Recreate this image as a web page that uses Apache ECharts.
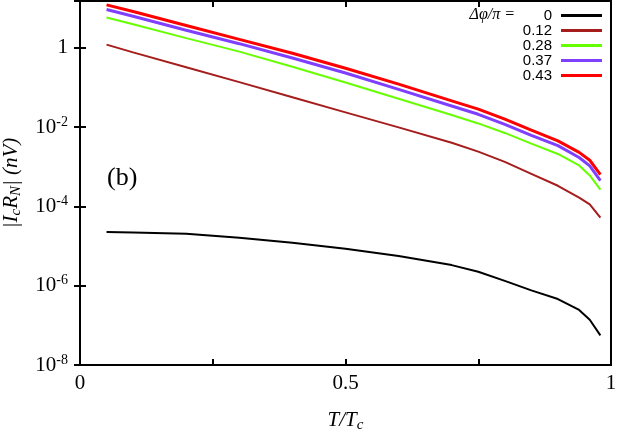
<!DOCTYPE html>
<html><head><meta charset="utf-8">
<script src="https://cdn.jsdelivr.net/npm/echarts@6/dist/echarts.min.js"></script>
<style>html,body{margin:0;padding:0;background:#fff}#c{width:619px;height:435px}</style>
</head><body><div id="c"></div>
<script>
const T = [0.05, 0.1, 0.2, 0.3, 0.4, 0.5, 0.6, 0.7, 0.75, 0.8, 0.85, 0.9, 0.94, 0.96, 0.98];
const seriesNames = ['0', '0.12', '0.28', '0.37', '0.43'];
const v0    = [2.24e-5, 2.19e-5, 2.04e-5, 1.62e-5, 1.20e-5, 8.5e-6, 5.6e-6, 3.3e-6, 2.24e-6, 1.32e-6, 7.6e-7, 4.6e-7, 2.45e-7, 1.38e-7, 5.6e-8];
const v012  = [1.19, 0.76, 0.32, 0.135, 0.056, 0.0234, 0.0098, 0.0040, 0.0024, 0.00132, 6.6e-4, 3.3e-4, 1.66e-4, 1.12e-4, 5.2e-5];
const v028  = [5.75, 3.89, 1.74, 0.794, 0.331, 0.132, 0.0513, 0.0200, 0.0123, 0.00708, 0.00380, 0.00209, 0.00107, 6.0e-4, 2.63e-4];
const v037  = [9.12, 6.17, 2.75, 1.26, 0.550, 0.229, 0.0891, 0.0339, 0.0209, 0.0117, 0.00617, 0.00339, 0.0017, 0.00105, 4.47e-4];
const v043  = [12.0, 8.13, 3.63, 1.62, 0.724, 0.302, 0.120, 0.0457, 0.0282, 0.0158, 0.00832, 0.00447, 0.00229, 0.00145, 6.3e-4];
const xTicks = [0, 0.25, 0.5, 0.75, 1];
const xLabels = ['0', '', '0.5', '', '1'];

const colors = ['#000000', '#a51d1d', '#66ff00', '#7f3fff', '#ff0000'];
const widths = [2, 2, 2, 3, 3];
const allData = [v0, v012, v028, v037, v043];

const serif = 'Liberation Serif';
const chart = echarts.init(document.getElementById('c'), null, {renderer: 'canvas'});

function ylab(v) {
  const l = Math.log10(v);
  const e = Math.round(l);
  if (Math.abs(l - e) > 1e-6 || e % 2 !== 0) return '';
  if (e === 0) return '{n|1}';
  return '{n|10}{s|' + e + '}';
}

const yBase = {
  type: 'log', logBase: 10, min: 1e-8, max: 15, interval: 2, splitNumber: 4
};

const option = {
  backgroundColor: '#fff',
  animation: false,
  grid: {left: 80, right: 8, top: 1, bottom: 70, show: true, borderColor: '#000', borderWidth: 2,
    containLabel: false, outerBoundsMode: 'none'},
  legend: {
    orient: 'vertical', right: 17, top: 8, align: 'right', padding: 0,
    itemWidth: 41, itemHeight: 3, itemGap: 0, icon: 'rect',
    data: seriesNames,
    textStyle: {fontFamily: 'Liberation Sans', fontSize: 15, color: '#000', width: 40, align: 'right', lineHeight: 14, padding: [0, 4, 0, 0]}
  },
  xAxis: [{
    type: 'value', min: 0, max: 1, interval: 0.25,
    axisLine: {show: true, lineStyle: {color: '#000', width: 2}},
    axisTick: {inside: true, length: 6, lineStyle: {color: '#000', width: 2}},
    splitLine: {show: false},
    axisLabel: {margin: 8, fontFamily: serif, fontSize: 21, color: '#000',
      formatter: function (v) { const i = xTicks.indexOf(v); return i >= 0 ? xLabels[i] : ''; }},
    name: '{i|T/T}{sub|c}', nameLocation: 'middle', nameGap: 43,
    nameTextStyle: {rich: {
      i: {fontFamily: serif, fontStyle: 'italic', fontSize: 21, color: '#000'},
      sub: {fontFamily: serif, fontStyle: 'italic', fontSize: 15, color: '#000', padding: [10, 0, 0, 0]}
    }}
  }, {
    type: 'value', min: 0, max: 1, interval: 0.25, position: 'top',
    axisLine: {show: false}, axisTick: {inside: true, length: 6, lineStyle: {color: '#000', width: 2}},
    axisLabel: {show: false}, splitLine: {show: false}
  }],
  yAxis: [Object.assign({}, yBase, {
    axisLine: {show: true, lineStyle: {color: '#000', width: 2}},
    axisTick: {inside: true, length: 6, lineStyle: {color: '#000', width: 2}},
    splitLine: {show: false}, minorTick: {show: false},
    axisLabel: {margin: 12, showMaxLabel: false, formatter: ylab, color: '#000',
      rich: {
        n: {fontFamily: serif, fontSize: 21, color: '#000', lineHeight: 24},
        s: {fontFamily: serif, fontSize: 14, color: '#000', lineHeight: 24, padding: [0, 0, 10, 0]}
      }},
    name: '{i||I}{sub|c}{i|R}{sub|N}{i|| (nV)}', nameLocation: 'middle', nameGap: 56,
    nameTextStyle: {rich: {
      i: {fontFamily: serif, fontStyle: 'italic', fontSize: 21, color: '#000'},
      sub: {fontFamily: serif, fontStyle: 'italic', fontSize: 15, color: '#000', padding: [10, 0, 0, 0]}
    }}
  }), Object.assign({}, yBase, {
    position: 'right',
    axisLine: {show: false}, axisTick: {inside: true, length: 6, lineStyle: {color: '#000', width: 2}},
    axisLabel: {show: false}, splitLine: {show: false}
  })],
  graphic: [
    {type: 'text', left: 107, top: 165, style: {text: '(b)', font: '26px "Liberation Serif"', fill: '#000'}},
    {type: 'text', right: 104, top: 7, style: {text: 'Δφ/π =', font: 'italic 16px "Liberation Serif"', fill: '#000'}}
  ],
  series: allData.map(function (d, k) {
    return {
      name: seriesNames[k], type: 'line', xAxisIndex: 0, yAxisIndex: 0,
      showSymbol: false, symbol: 'none', smooth: false,
      lineStyle: {color: colors[k], width: widths[k]}, itemStyle: {color: colors[k]},
      data: T.map(function (t, i) { return [t, d[i]]; }),
      z: 10 - k
    };
  })
};
chart.setOption(option);
</script></body></html>
